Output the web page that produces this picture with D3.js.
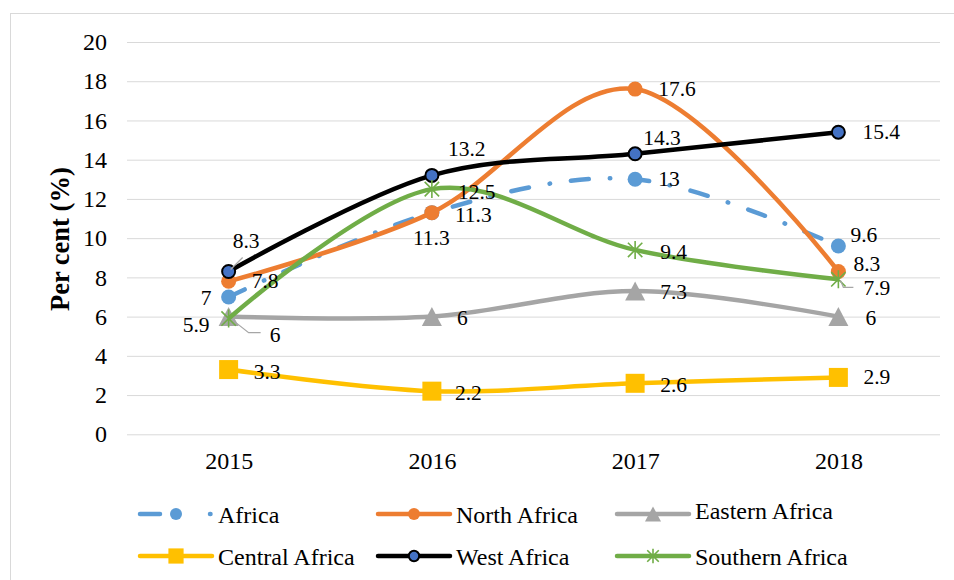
<!DOCTYPE html>
<html>
<head>
<meta charset="utf-8">
<script src="https://cdn.jsdelivr.net/npm/d3@7"></script>
<style>
  html, body { margin: 0; padding: 0; background: #fff; }
  svg { display: block; }
  svg text { font-family: "Liberation Serif", "Times New Roman", serif; }
</style>
</head>
<body>
<svg id="chart" width="954" height="580"></svg>
<script>
// values
const years = ["2015", "2016", "2017", "2018"];
const africa = [7, 11.3, 13, 9.6];
const northAfrica = [7.8, 11.3, 17.6, 8.3];
const easternAfrica = [6, 6, 7.3, 6];
const centralAfrica = [3.3, 2.2, 2.6, 2.9];
const westAfrica = [8.3, 13.2, 14.3, 15.4];
const southernAfrica = [5.9, 12.5, 9.4, 7.9];
const yTicks = [0, 2, 4, 6, 8, 10, 12, 14, 16, 18, 20];
const yTitle = "Per cent (%)";

const series = [
  { name: "Africa", values: africa, color: "#5B9BD5", marker: "circle", dash: "18 21 0.5 21", legendDash: "20 50 0.5 50" },
  { name: "North Africa", values: northAfrica, color: "#ED7D31", marker: "circle" },
  { name: "Eastern Africa", values: easternAfrica, color: "#A5A5A5", marker: "triangle" },
  { name: "Central Africa", values: centralAfrica, color: "#FFC000", marker: "square" },
  { name: "West Africa", values: westAfrica, color: "#000000", marker: "ring" },
  { name: "Southern Africa", values: southernAfrica, color: "#70AD47", marker: "star" }
];

// label placement relative to each point (left edge, vertical centre)
const labelOffsets = {
  "Africa": [[-28, 1], [-19, 25], [23, 0], [12, -11]],
  "North Africa": [[23, 0], [23, 2], [23, 0], [15, -7]],
  "Eastern Africa": [[41, 18], [25, 1], [25, 1], [27, 1]],
  "Central Africa": [[25, 2], [23, 2], [25, 2], [25, 0]],
  "West Africa": [[4, -30], [16, -26], [8, -16], [24, 0]],
  "Southern Africa": [[-46, 6], [26, 3], [25, 2], [25, 9]]
};
// leader lines for the labels pulled away from their points
const leaders = [
  { name: "West Africa", i: 0, pts: [[2, -2], [14, -14]] },
  { name: "Eastern Africa", i: 0, pts: [[6, 5], [20, 16], [32, 16]] },
  { name: "Southern Africa", i: 3, pts: [[2, 1], [5, 8], [15, 8]] }
];

const svg = d3.select("#chart");
const plot = { left: 127, right: 940, top: 42, bottom: 434.3 };

// outer chart frame
svg.append("rect")
  .attr("x", 10.5).attr("y", 13.5)
  .attr("width", 960).attr("height", 600)
  .attr("fill", "none").attr("stroke", "#D9D9D9").attr("stroke-width", 1);

const x = d3.scalePoint().domain(years).range([plot.left, plot.right]).padding(0.5);
const y = d3.scaleLinear().domain([0, 20]).range([plot.bottom, plot.top]);

// gridlines + y axis
const yAxis = svg.append("g")
  .attr("transform", `translate(${plot.left},0)`)
  .call(d3.axisLeft(y).tickValues(yTicks).tickSize(-(plot.right - plot.left)).tickPadding(20));
yAxis.attr("font-family", null);
yAxis.select(".domain").remove();
yAxis.selectAll(".tick line").attr("stroke", "#D9D9D9").attr("stroke-width", 1);
yAxis.selectAll(".tick text").attr("fill", "#000").style("font-size", "24px");

// x axis labels
const xAxis = svg.append("g")
  .attr("transform", `translate(0,${plot.bottom})`)
  .call(d3.axisBottom(x).tickSize(0).tickPadding(18));
xAxis.attr("font-family", null);
xAxis.select(".domain").remove();
xAxis.selectAll(".tick text").attr("fill", "#000").style("font-size", "24px");

svg.append("text")
  .attr("transform", `translate(60,${(plot.top + plot.bottom) / 2 + 1}) rotate(-90)`)
  .attr("text-anchor", "middle")
  .attr("dominant-baseline", "central")
  .style("font-size", "26.5px").style("font-weight", "bold")
  .text(yTitle);

function drawMarker(g, type, cx, cy, color, scale) {
  const s = scale || 1;
  if (type === "circle") {
    g.append("circle").attr("cx", cx).attr("cy", cy).attr("r", 7.5 * s).attr("fill", color);
  } else if (type === "ring") {
    g.append("circle").attr("cx", cx).attr("cy", cy).attr("r", 6.5 * s)
      .attr("fill", "#4472C4").attr("stroke", "#000").attr("stroke-width", 2);
  } else if (type === "square") {
    const h = 9.5 * s;
    g.append("rect").attr("x", cx - h).attr("y", cy - h).attr("width", 2 * h).attr("height", 2 * h).attr("fill", color);
  } else if (type === "triangle") {
    const w = 10 * s, h = 9.5 * s;
    g.append("path").attr("d", `M${cx},${cy - h}L${cx + w},${cy + h}L${cx - w},${cy + h}Z`).attr("fill", color);
  } else if (type === "star") {
    const r = 9 * s, d = r * 0.8;
    g.append("path")
      .attr("d", `M${cx},${cy - r}V${cy + r}M${cx - d},${cy - d}L${cx + d},${cy + d}M${cx - d},${cy + d}L${cx + d},${cy - d}`)
      .attr("stroke", color).attr("stroke-width", 1.6).attr("fill", "none");
  }
}

const line = d3.line()
  .x((d, i) => x(years[i]))
  .y(d => y(d))
  .curve(d3.curveCardinal.tension(0));

series.forEach(s => {
  const g = svg.append("g");
  g.append("path")
    .attr("d", line(s.values))
    .attr("fill", "none")
    .attr("stroke", s.color)
    .attr("stroke-width", 4.5)
    .attr("stroke-linecap", s.dash ? "round" : "butt")
    .attr("stroke-dasharray", s.dash || null);
  s.values.forEach((v, i) => drawMarker(g, s.marker, x(years[i]), y(v), s.color));
});

// leader lines
leaders.forEach(l => {
  const s = series.find(d => d.name === l.name);
  const px = x(years[l.i]), py = y(s.values[l.i]);
  svg.append("polyline")
    .attr("points", l.pts.map(p => `${px + p[0]},${py + p[1]}`).join(" "))
    .attr("fill", "none").attr("stroke", "#A6A6A6").attr("stroke-width", 1.2);
});

// data labels
series.forEach(s => {
  s.values.forEach((v, i) => {
    const off = labelOffsets[s.name][i];
    svg.append("text")
      .attr("x", x(years[i]) + off[0])
      .attr("y", y(v) + off[1])
      .attr("dominant-baseline", "central")
      .style("font-size", "21.5px")
      .text(v);
  });
});

// legend
const legendCols = [140, 378, 617];
const legendRows = [514, 556];
series.forEach((s, k) => {
  const lx = legendCols[k % 3], ly = legendRows[Math.floor(k / 3)];
  const g = svg.append("g");
  g.append("line")
    .attr("x1", lx).attr("x2", lx + 72).attr("y1", ly).attr("y2", ly)
    .attr("stroke", s.color).attr("stroke-width", 4.5)
    .attr("stroke-linecap", "round")
    .attr("stroke-dasharray", s.legendDash || null);
  drawMarker(g, s.marker, lx + 36, ly, s.color, 0.8);
  g.append("text")
    .attr("x", lx + 78).attr("y", ly + (k === 2 ? -3 : 1))
    .attr("dominant-baseline", "central")
    .style("font-size", "24px")
    .text(s.name);
});
</script>
</body>
</html>
